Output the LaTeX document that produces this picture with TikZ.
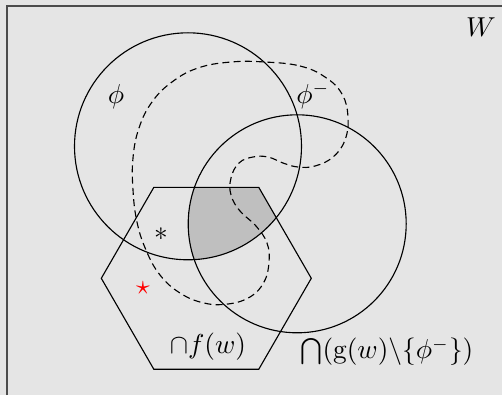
\documentclass[tikz,border=0pt]{standalone}
\usepackage{amsmath}
\usepackage{amssymb}
\usepackage{xcolor}
\usepackage{tikz}
\usetikzlibrary{calc}

\begin{document}
\begin{tikzpicture}[
    x=0.4pt, y=-0.4pt,
    setline/.style={black, line width=0.45pt},
    dashline/.style={black, line width=0.45pt, dash pattern=on 2.8pt off 1.7pt},
    frameline/.style={black!70, line width=0.6pt},
    setlabel/.style={inner sep=0pt, font=\fontsize{10.5}{12}\selectfont}
]

% background and frame
\fill[gray!20] (0,0) rectangle (502,395);
\useasboundingbox (0,0) rectangle (502,395);
\draw[frameline] (7,395) -- (7,6) -- (502,6);

% the shaded part: phi, g(w) and f(w) together
\begin{scope}
  \clip (188,146.3) circle [radius=113.5];
  \clip (297.2,223.8) circle [radius=109];
  \fill[black!25] (311.3,278.3) -- (258.8,187.4) -- (153.8,187.4) -- (101.3,278.3)
                  -- (153.8,369.2) -- (258.8,369.2) -- cycle;
\end{scope}

% sets
\draw[setline] (188,146.3) circle [radius=113.5];
\draw[setline] (297.2,223.8) circle [radius=109];
\draw[setline] (311.3,278.3) -- (258.8,187.4) -- (153.8,187.4) -- (101.3,278.3)
               -- (153.8,369.2) -- (258.8,369.2) -- cycle;

% phi^- (dashed blob)
\draw[dashline] plot[smooth cycle, tension=0.7] coordinates {
  (265,62) (300,66) (325,77) (342,94) (348,117) (345,140) (333,157)
  (315,166) (298,167) (283,163) (268,157) (253,157) (239,163) (231,178)
  (231,195) (240,211) (256,226) (267,243) (269,262) (264,282) (250,297)
  (228,304) (204,303) (180,293) (160,275) (146,250) (137,222) (133,190)
  (133,158) (139,128) (152,102) (172,82) (198,68) (231,62)};

% labels
\node[setlabel] (wlabel)    at (481,27)  {$W$};
\node[setlabel] (philabel)  at (116,97)  {$\phi$};
\node[setlabel] (phimlabel) at (313,96)  {$\phi^-$};
\node[setlabel] (astlabel)  at (161,234) {$\ast$};
\node[setlabel, text=red] (starlabel) at (143,288) {$\star$};
\node[setlabel] (flabel)    at (208,347) {$\cap f(w)$};
\node[setlabel] (glabel)    at (387,352) {$\bigcap(\mathrm{g}(w)\backslash\{\phi^-\})$};

\end{tikzpicture}
\end{document}
